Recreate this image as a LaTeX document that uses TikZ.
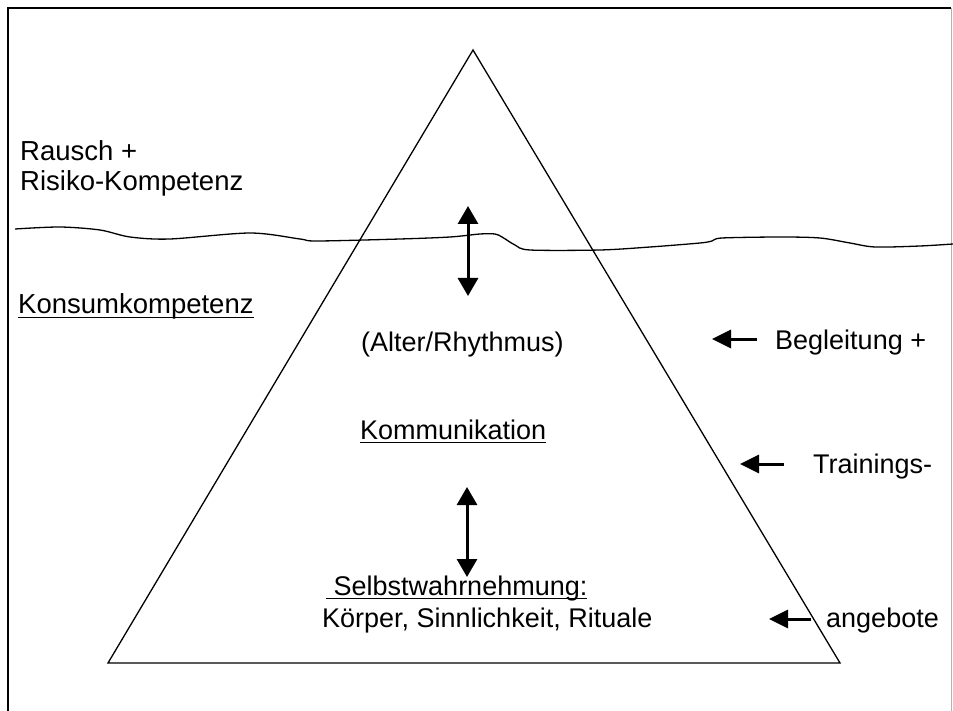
\documentclass[tikz,border=0pt]{standalone}
\usepackage{fontspec}
\setmainfont{Liberation Sans}
\usetikzlibrary{arrows.meta}
\newcommand\myul[1]{\setbox0\hbox{#1}\rlap{\rule[-4pt]{\wd0}{1.5pt}}\box0}
\tikzset{
  lbl/.style={anchor=base west, inner sep=0pt, font=\fontsize{27}{32}\selectfont},
  lbll/.style={lbl, font=\fontsize{27.5}{33}\selectfont},
  dblarrow/.style={line width=3pt, {Triangle[width=20pt,length=18pt]}-{Triangle[width=20pt,length=18pt]}},
  inarrow/.style={line width=3pt, -{Triangle[width=18pt,length=19pt]}},
  edge/.style={line width=1.3pt},
}
\begin{document}
\begin{tikzpicture}[x=1pt,y=-1pt]
\useasboundingbox (0,0) rectangle (953,711);
% frame
\draw[line width=1.2pt] (8,711) -- (8,8) -- (951,8);
\draw[line width=1pt, gray!60] (951,8) -- (951,711);
% triangle
\coordinate (apex) at (473,50);
\coordinate (bl) at (108,663);
\coordinate (br) at (840,663);
\draw[edge] (apex) -- (bl) -- (br) -- cycle;
% water line
\draw[edge] plot[smooth, tension=0.5] coordinates {(15,229) (60,227) (100,230) (130,237) (170,239) (250,233) (300,239) (317,241) (400,239) (450,237) (480,234) (495,234) (502,237) (515,245) (530,250) (600,250) (650,247) (700,243) (712,241) (722,238) (780,237) (820,238) (850,243) (875,247) (920,246) (953,244)};
% double arrows
\coordinate (a1t) at (468,206);
\coordinate (a1b) at (468,296);
\draw[dblarrow] (a1t) -- (a1b);
\coordinate (a2t) at (467,487);
\coordinate (a2b) at (467,577);
\draw[dblarrow] (a2t) -- (a2b);
% left texts
\node[lbll] (rausch) at (20,161) {Rausch +};
\node[lbll] (risiko) at (20,191) {Risiko-Kompetenz};
\node[lbll] (konsum) at (18,314) {\myul{Konsumkompetenz}};
% inner texts
\node[lbl] (alter) at (361,351) {(Alter/Rhythmus)};
\node[lbl] (komm) at (360,439) {\myul{Kommunikation}};
\node[lbl] (selbst) at (326,595) {\myul{ Selbstwahrnehmung:}};
\node[lbl] (koerper) at (322,627) {Körper, Sinnlichkeit, Rituale};
% right texts
\node[lbl] (begl) at (775,349) {Begleitung +};
\node[lbl] (train) at (813,473) {Trainings-};
\node[lbl] (angeb) at (826,627) {angebote};
% incoming arrows
\coordinate (b1s) at (757,339);
\coordinate (b1e) at (712,339);
\draw[inarrow] (b1s) -- (b1e);
\coordinate (b2s) at (784,464);
\coordinate (b2e) at (740,464);
\draw[inarrow] (b2s) -- (b2e);
\coordinate (b3s) at (811,619);
\coordinate (b3e) at (769,619);
\draw[inarrow] (b3s) -- (b3e);
\end{tikzpicture}
\end{document}
